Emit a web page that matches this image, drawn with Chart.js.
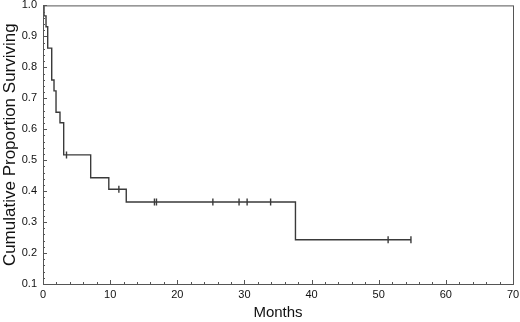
<!DOCTYPE html>
<html>
<head>
<meta charset="utf-8">
<script src="https://cdn.jsdelivr.net/npm/chart.js@4/dist/chart.umd.min.js"></script>
<style>
  html, body { margin: 0; padding: 0; background: #fff; }
  #wrap { width: 520px; height: 322px; position: relative; }
</style>
</head>
<body>
<div id="wrap"><canvas id="km"></canvas></div>
<script>
// Kaplan-Meier survival curve: step line + censor ticks

// event times (months) and survival after each step
const eventMonths = [0, 0.15, 0.45, 0.7, 1.3, 1.64, 1.94, 2.53, 3.08, 7.1, 9.8, 12.4, 37.6, 54.8];
const survival    = [1.0, 0.966, 0.931, 0.862, 0.759, 0.724, 0.655, 0.621, 0.517, 0.443, 0.406, 0.365, 0.243, 0.243];

// censored observations
const censorMonths   = [3.5, 11.3, 16.6, 16.9, 25.3, 29.2, 30.4, 33.9, 51.4, 54.8];
const censorSurvival = [0.517, 0.406, 0.365, 0.365, 0.365, 0.365, 0.365, 0.365, 0.243, 0.243];

const xTicks = [0, 10, 20, 30, 40, 50, 60, 70];
const yTicks = [0.1, 0.2, 0.3, 0.4, 0.5, 0.6, 0.7, 0.8, 0.9, 1.0];

const lineColor = '#3a3a3a';
const frameColor = '#555555';
const textColor = '#111111';
const fontFamily = '"Liberation Sans", Arial, sans-serif';

// frame on top/right plus small inward ticks on the axes
const frameTicks = {
    id: 'frameTicks',
    afterDraw(chart) {
        const { ctx, chartArea: a, scales } = chart;
        ctx.save();
        ctx.strokeStyle = frameColor;
        ctx.lineWidth = 1;
        ctx.strokeRect(a.left + 0.5, a.top + 0.5, a.right - a.left, a.bottom - a.top);
        ctx.beginPath();
        for (let v = 0; v <= 70; v += 2) {
            const px = Math.round(scales.x.getPixelForValue(v)) + 0.5;
            const len = v % 10 === 0 ? 4 : 2;
            ctx.moveTo(px, a.bottom);
            ctx.lineTo(px, a.bottom - len);
        }
        for (let i = 10; i <= 100; i += 2) {
            const py = Math.round(scales.y.getPixelForValue(i / 100)) + 0.5;
            const len = i % 10 === 0 ? 4 : 2;
            ctx.moveTo(a.left, py);
            ctx.lineTo(a.left + len, py);
        }
        ctx.stroke();
        ctx.restore();
    }
};

new Chart(document.getElementById('km'), {
    type: 'scatter',
    data: {
        datasets: [
            {
                label: 'survival',
                type: 'line',
                data: eventMonths.map((m, i) => ({ x: m, y: survival[i] })),
                borderColor: lineColor,
                borderWidth: 1.4,
                stepped: 'before',
                pointRadius: 0,
                fill: false
            },
            {
                label: 'censored',
                data: censorMonths.map((m, i) => ({ x: m, y: censorSurvival[i] })),
                pointStyle: 'line',
                rotation: 90,
                radius: 3.5,
                borderColor: lineColor,
                borderWidth: 1.4
            }
        ]
    },
    options: {
        responsive: true,
        maintainAspectRatio: false,
        animation: false,
        layout: { padding: { top: 5, right: 7, left: 0, bottom: 0 } },
        plugins: {
            legend: { display: false },
            tooltip: { enabled: false }
        },
        scales: {
            x: {
                type: 'linear',
                min: 0,
                max: 70,
                afterBuildTicks: s => { s.ticks = xTicks.map(v => ({ value: v })); },
                afterFit: s => { s.height = 38; s.paddingLeft = 0; s.paddingRight = 0; },
                ticks: {
                    color: textColor,
                    font: { family: fontFamily, size: 11 },
                    padding: 4,
                    maxRotation: 0
                },
                grid: { display: false, drawTicks: false },
                border: { display: true, color: frameColor },
                title: {
                    display: true,
                    text: 'Months',
                    color: textColor,
                    font: { family: fontFamily, size: 15 },
                    padding: 0
                }
            },
            y: {
                type: 'linear',
                min: 0.1,
                max: 1.0,
                afterBuildTicks: s => { s.ticks = yTicks.map(v => ({ value: v })); },
                afterFit: s => { s.width = 43; s.paddingTop = 0; s.paddingBottom = 0; },
                ticks: {
                    color: textColor,
                    font: { family: fontFamily, size: 11 },
                    padding: 6,
                    callback: v => v.toFixed(1)
                },
                grid: { display: false, drawTicks: false },
                border: { display: true, color: frameColor },
                title: {
                    display: true,
                    text: 'Cumulative Proportion Surviving',
                    color: textColor,
                    font: { family: fontFamily, size: 17 },
                    padding: 0
                }
            }
        }
    },
    plugins: [frameTicks]
});
</script>
</body>
</html>
